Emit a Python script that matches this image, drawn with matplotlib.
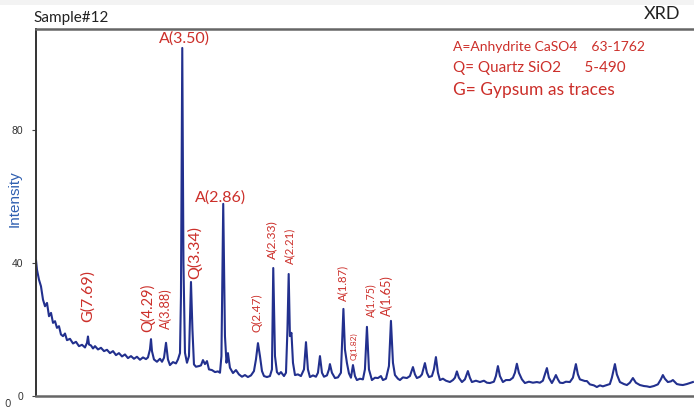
import matplotlib
matplotlib.use("Agg")
import matplotlib.pyplot as plt
from matplotlib.patches import Rectangle

# ---- data (2-theta, intensity) ----
two_theta = [
    4.30, 4.44, 4.73, 5.02, 5.31, 5.60, 5.89, 6.18, 6.47, 6.76, 7.05, 7.33, 7.62, 7.91, 8.20, 8.49,
    8.78, 9.21, 9.65, 10.08, 10.51, 10.95, 11.38, 11.67, 11.81, 11.96, 12.25, 12.54, 12.83, 13.26,
    13.69, 14.13, 14.56, 14.99, 15.43, 15.86, 16.29, 16.73, 17.16, 17.59, 18.03, 18.46, 18.89,
    19.33, 19.76, 20.20, 20.48, 20.77, 20.92, 21.06, 21.35, 21.78, 22.22, 22.51, 22.80, 23.09,
    23.37, 23.66, 24.10, 24.53, 24.82, 25.11, 25.25, 25.44, 25.61, 25.83, 26.12, 26.41, 26.70,
    26.91, 27.13, 27.42, 27.85, 28.14, 28.43, 28.72, 29.01, 29.30, 29.73, 30.17, 30.60, 30.89,
    31.10, 31.36, 31.61, 31.83, 32.04, 32.33, 32.77, 33.20, 33.63, 34.07, 34.50, 34.93, 35.37,
    35.80, 36.09, 36.38, 36.67, 36.96, 37.25, 37.68, 38.11, 38.40, 38.59, 38.84, 39.12, 39.41,
    39.70, 40.14, 40.43, 40.64, 40.82, 41.00, 41.22, 41.44, 41.73, 42.16, 42.59, 43.03, 43.32,
    43.60, 43.89, 44.33, 44.76, 45.05, 45.34, 45.63, 45.92, 46.35, 46.64, 46.78, 47.07, 47.51,
    47.94, 48.37, 48.52, 48.73, 48.95, 49.24, 49.53, 49.82, 50.11, 50.40, 50.68, 51.12, 51.55,
    51.84, 52.13, 52.42, 52.85, 53.29, 53.72, 54.15, 54.44, 54.88, 55.31, 55.60, 55.89, 56.18,
    56.61, 56.90, 57.33, 57.91, 58.34, 58.78, 59.07, 59.35, 59.79, 60.08, 60.51, 60.80, 61.09,
    61.52, 61.81, 62.10, 62.39, 62.68, 63.11, 63.55, 64.12, 64.56, 64.85, 65.13, 65.42, 65.86,
    66.29, 66.72, 67.01, 67.30, 67.88, 68.46, 69.04, 69.47, 69.90, 70.48, 70.77, 71.06, 71.35,
    71.78, 72.22, 72.79, 73.23, 73.52, 73.80, 74.09, 74.53, 74.96, 75.54, 76.12, 76.69, 77.13,
    77.56, 77.85, 78.14, 78.43, 78.86, 79.15, 79.44, 79.73, 80.02, 80.45, 80.89, 81.46, 81.90,
    82.33, 82.62, 82.91, 83.20, 83.63, 83.92, 84.35, 84.93, 85.36, 85.80, 86.23, 86.81, 87.24,
    87.53, 87.97, 88.25, 88.69, 89.27, 89.70, 90.13, 90.57, 91.00, 91.58, 92.16, 92.59, 93.02,
    93.60, 94.18, 94.61, 94.90, 95.19, 95.62, 96.06, 96.35, 96.92, 97.36, 97.79, 98.37, 98.80,
    99.24,
]
intensity = [
    40.9, 38.0, 35.0, 33.0, 29.0, 27.0, 28.0, 24.0, 25.0, 22.0, 22.5, 20.5, 21.0, 18.5, 18.0, 18.8,
    16.8, 17.2, 15.8, 16.3, 15.0, 15.4, 14.6, 16.0, 17.9, 15.5, 15.2, 14.3, 15.0, 14.0,
    14.5, 13.5, 13.9, 12.9, 13.5, 12.3, 12.9, 11.9, 12.5, 11.4, 12.0, 11.2, 11.8,
    10.9, 11.6, 11.1, 11.6, 14.0, 17.1, 13.5, 11.0, 10.3, 11.2, 10.3, 11.5, 16.0,
    11.0, 9.3, 10.2, 9.8, 11.0, 12.9, 30.0, 104.7, 40.0, 13.0, 10.0, 12.0, 34.3,
    20.0, 9.5, 8.8, 9.0, 9.2, 10.8, 9.6, 10.5, 8.0, 7.8, 7.2, 7.4, 7.0,
    12.0, 57.8, 18.0, 10.0, 12.9, 8.5, 6.9, 7.8, 6.5, 5.8, 6.3, 5.7, 6.2,
    7.5, 11.0, 15.9, 12.0, 7.5, 6.0, 5.7, 6.0, 8.0, 38.5, 12.0, 7.2, 6.5,
    7.2, 6.0, 7.0, 20.0, 36.7, 18.0, 19.0, 10.0, 6.3, 6.5, 6.0, 8.0, 16.2,
    8.0, 5.7, 6.2, 5.8, 7.0, 12.0, 7.0, 5.8, 6.2, 8.0, 9.6, 7.0, 5.4,
    5.6, 7.0, 15.0, 26.2, 14.0, 9.9, 6.8, 5.5, 9.3, 6.0, 4.8, 5.2, 5.0,
    8.0, 20.8, 8.0, 4.8, 5.5, 5.4, 6.0, 4.8, 5.2, 9.0, 22.6, 10.0, 6.3,
    5.2, 4.8, 5.6, 5.4, 6.0, 8.7, 6.5, 5.4, 5.8, 6.5, 9.9, 7.0, 5.7,
    6.0, 8.0, 11.7, 7.0, 4.8, 5.2, 4.6, 4.2, 4.8, 5.5, 7.4, 5.5, 4.2,
    5.0, 7.5, 5.5, 4.2, 4.6, 4.2, 4.6, 4.0, 3.9, 4.3, 6.0, 9.0, 6.0,
    4.2, 4.8, 4.8, 5.5, 7.0, 9.7, 7.0, 5.0, 3.9, 4.3, 4.0, 4.2, 4.0,
    4.6, 6.5, 8.4, 5.5, 3.9, 5.0, 6.3, 5.0, 4.0, 3.9, 4.3, 4.2, 5.5,
    9.6, 6.5, 5.0, 4.8, 4.5, 4.5, 3.5, 3.2, 2.7, 3.2, 2.9, 3.3, 3.6,
    5.5, 9.6, 6.5, 4.2, 3.6, 3.3, 4.0, 5.4, 4.0, 3.3, 3.0, 2.9, 2.7,
    3.0, 3.5, 5.0, 6.3, 5.2, 4.2, 4.4, 4.8, 3.6, 3.4, 3.3, 3.6, 3.9,
    4.2,
]

# peak labels: text, x (2-theta), y (intensity) of label centre, rotation, size
peak_labels = ["A(3.50)", "A(2.86)", "G(7.69)", "Q(4.29)", "A(3.88)", "Q(3.34)", "Q(2.47)",
               "A(2.33)", "A(2.21)", "A(1.87)", "Q(1.82)", "A(1.75)", "A(1.65)"]
label_x = [25.7, 31.0, 11.8, 20.5, 23.1, 27.3, 36.2, 38.4, 41.0, 48.7, 50.25, 52.7, 55.0]
label_y = [107.4, 59.6, 30.1, 26.5, 26.2, 43.3, 25.0, 46.9, 45.1, 34.0, 15.0, 28.9, 30.1]
label_rot = [0, 0, 90, 90, 90, 90, 90, 90, 90, 90, 90, 90, 90]
label_size = [11.5, 11.5, 11.5, 10.5, 9.2, 11.5, 8.5, 8.8, 8.2, 8.2, 6.0, 7.6, 9.2]

legend_lines = ["A=Anhydrite CaSO4    63-1762", "Q= Quartz SiO2      5-490", "G= Gypsum as traces"]
y_ticks = [0, 40, 80]

RED = "#cc2f2a"
W, H = 694, 413
fig = plt.figure(figsize=(W / 100, H / 100), dpi=100)
fig.patches.append(Rectangle((0, 1 - 5 / H), 1, 5 / H, transform=fig.transFigure,
                             facecolor="#f3f3f3", edgecolor="none", zorder=0))
ax = fig.add_axes([36 / W, (H - 396) / H, (W - 36) / W, (396 - 29) / H])

ax.plot(two_theta, intensity, color="#22308e", lw=1.5, solid_joinstyle="round")
ax.set_xlim(4.3, 99.4)
ax.set_ylim(0, 110.4)

ax.set_xticks([])
ax.set_yticks(y_ticks)
ax.tick_params(axis="y", length=3, width=0.8, color="#444444", labelsize=7.5,
               labelcolor="#333333", pad=6)
for lab in ax.get_yticklabels():
    lab.set_fontfamily("Liberation Sans")

ax.spines["right"].set_visible(False)
ax.spines["top"].set_color("#666666")
ax.spines["top"].set_linewidth(1.8)
ax.spines["bottom"].set_color("#666666")
ax.spines["bottom"].set_linewidth(1.8)
ax.spines["left"].set_color("#333333")
ax.spines["left"].set_linewidth(1.4)

for t, x, y, r, s in zip(peak_labels, label_x, label_y, label_rot, label_size):
    ax.text(x, y, t, rotation=r, fontsize=s, color=RED, ha="center", va="center",
            family="Lato")

fig.text(15 / W, 1 - 199 / H, "Intensity", rotation=90, fontsize=11, color="#2f5fb0",
         ha="center", va="center", family="Liberation Sans")

for i, line in enumerate(legend_lines):
    ypix = [47, 68, 90][i]
    fs = [10, 11, 12.5][i]
    fig.text(453 / W, 1 - ypix / H, line, fontsize=fs, color=RED, ha="left", va="center",
             family="Lato")

fig.text(33 / W, 1 - 18 / H, "Sample#12", fontsize=11, color="#222222", ha="left",
         va="center", family="Lato")
fig.text(680 / W, 1 - 14 / H, "XRD", fontsize=13, color="#222222", ha="right",
         va="center", family="Lato")
fig.text(8 / W, 1 - 404 / H, "\u022f".replace("\u022f", "0\u0307"), fontsize=7.5,
         color="#444444", ha="center", va="center", family="DejaVu Sans")

fig.savefig("out.png", dpi=100)
